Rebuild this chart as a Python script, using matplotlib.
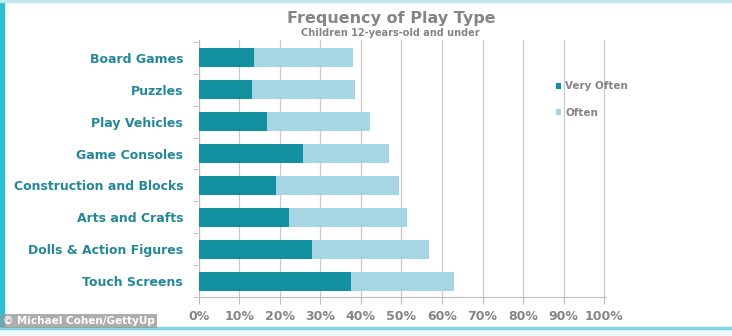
import matplotlib.pyplot as plt
from matplotlib.patches import Rectangle
from matplotlib.ticker import FixedLocator

categories = [
    "Board Games",
    "Puzzles",
    "Play Vehicles",
    "Game Consoles",
    "Construction and Blocks",
    "Arts and Crafts",
    "Dolls & Action Figures",
    "Touch Screens",
]
very_often = [13.7, 13.1, 16.9, 25.7, 19.2, 22.2, 28.0, 37.5]
often = [24.4, 25.4, 25.4, 21.2, 30.1, 29.2, 28.8, 25.4]
x_ticks = [0, 10, 20, 30, 40, 50, 60, 70, 80, 90, 100]

dark = "#12909f"
light = "#a6d6e4"
label_col = "#23889a"
grey = "#858585"

fig = plt.figure(figsize=(7.32, 3.36), dpi=100)
ax = fig.add_axes([0.2712, 0.116, 0.5560, 0.765])

pos = list(range(len(categories)))
ax.barh(pos, very_often, height=0.6, color=dark, label="Very Often", zorder=3)
ax.barh(pos, often, left=very_often, height=0.6, color=light, label="Often", zorder=3)

ax.set_xlim(0, 100.3)
ax.set_ylim(7.5, -0.56)
ax.set_xticks(x_ticks)
ax.set_xticklabels([f"{t}%" for t in x_ticks], color=grey, fontsize=9, fontweight="bold")
ax.set_yticks(pos)
ax.set_yticklabels(categories, color=label_col, fontsize=9, fontweight="bold")
ax.yaxis.set_minor_locator(FixedLocator([p + 0.5 for p in pos] + [-0.5]))
ax.tick_params(axis="y", which="major", length=0, pad=11)
ax.tick_params(axis="y", which="minor", length=4, color="#bbbbbb", direction="out")
ax.tick_params(axis="x", length=5, color="#bbbbbb", pad=4)

ax.grid(axis="x", color="#c8c8c8", linewidth=0.9, zorder=0)
for side in ["top", "right"]:
    ax.spines[side].set_visible(False)
ax.spines["left"].set_color("#bbbbbb")
ax.spines["bottom"].set_color("#bbbbbb")

ax.legend(loc="upper left", bbox_to_anchor=(0.855, 0.875), frameon=False,
          handlelength=0.5, handleheight=0.5, labelspacing=1.55, handletextpad=0.4,
          prop={"size": 7.5, "weight": "bold"}, labelcolor=grey)

fig.text(0.534, 0.945, "Frequency of Play Type", ha="center", va="center",
         fontsize=11.5, fontweight="bold", color=grey)
fig.text(0.533, 0.902, "Children 12-years-old and under", ha="center", va="center",
         fontsize=7, fontweight="bold", color=grey)

# cyan frame on the left, top and bottom edges
fig.patches.append(Rectangle((0, 0), 0.005, 1, transform=fig.transFigure, color="#2cc0d2"))
fig.patches.append(Rectangle((0, 0.994), 1, 0.006, transform=fig.transFigure, color="#bfe9ef"))
fig.patches.append(Rectangle((0, 0.0), 1, 0.022, transform=fig.transFigure, color="#eef7f9"))
fig.patches.append(Rectangle((0, 0.022), 1, 0.004, transform=fig.transFigure, color="#7fd6e2"))

fig.text(0.004, 0.045, "© Michael Cohen/GettyUp", ha="left", va="center", fontsize=7.5,
         color="white", fontweight="bold",
         bbox=dict(boxstyle="square,pad=0.2", facecolor="#9a9a9a", edgecolor="none", alpha=0.8))

fig.savefig("out.png", dpi=100)
